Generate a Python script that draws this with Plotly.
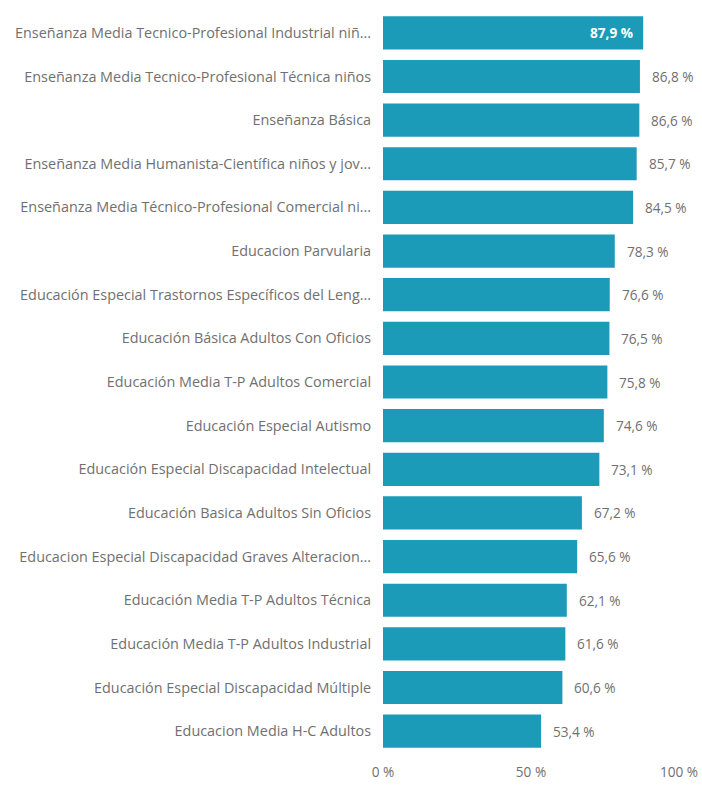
import plotly.graph_objects as go

# Tipos de enseñanza y porcentaje de cada uno
categorias = [
    "Enseñanza Media Tecnico-Profesional Industrial niñ...",
    "Enseñanza Media Tecnico-Profesional Técnica niños",
    "Enseñanza Básica",
    "Enseñanza Media Humanista-Científica niños y jov...",
    "Enseñanza Media Técnico-Profesional Comercial ni...",
    "Educacion Parvularia",
    "Educación Especial Trastornos Específicos del Leng...",
    "Educación Básica Adultos Con Oficios",
    "Educación Media T-P Adultos Comercial",
    "Educación Especial Autismo",
    "Educación Especial Discapacidad Intelectual",
    "Educación Basica Adultos Sin Oficios",
    "Educacion Especial Discapacidad Graves Alteracion...",
    "Educación Media T-P Adultos Técnica",
    "Educación Media T-P Adultos Industrial",
    "Educación Especial Discapacidad Múltiple",
    "Educacion Media H-C Adultos",
]
valores = [87.9, 86.8, 86.6, 85.7, 84.5, 78.3, 76.6, 76.5, 75.8, 74.6,
           73.1, 67.2, 65.6, 62.1, 61.6, 60.6, 53.4]
ticks_x = [0, 50, 100]
ticks_x_texto = ["0 %", "50 %", "100 %"]

color_barra = "#1b9bb7"
gris = "#707070"
fuente = "Open Sans"
tam = 14.4

fig = go.Figure(
    go.Bar(
        x=valores,
        y=categorias,
        orientation="h",
        marker=dict(color=color_barra, line=dict(width=0)),
        hoverinfo="skip",
    )
)

# Etiquetas de valor: la barra más larga la lleva dentro, el resto fuera
for i, (cat, v) in enumerate(zip(categorias, valores)):
    texto = f"{v:.1f} %".replace(".", ",")
    dentro = i == 0
    fig.add_annotation(
        x=v,
        y=cat,
        xref="x",
        yref="y",
        text=f"<b>{texto}</b>" if dentro else texto,
        showarrow=False,
        xanchor="right" if dentro else "left",
        xshift=-8 if dentro else 10,
        font=dict(family=fuente, size=tam - 0.8, color="white" if dentro else gris),
    )

fig.update_layout(
    width=702,
    height=788,
    margin=dict(l=383, r=23, t=11, b=35, autoexpand=False),
    paper_bgcolor="white",
    plot_bgcolor="white",
    bargap=0.24,
    showlegend=False,
    font=dict(family=fuente, size=tam, color=gris),
)
fig.update_xaxes(
    range=[0, 100],
    tickvals=ticks_x,
    ticktext=ticks_x_texto,
    showgrid=False,
    zeroline=False,
    showline=False,
    automargin=False,
    ticks="outside",
    ticklen=7,
    tickcolor="rgba(0,0,0,0)",
    tickfont=dict(family=fuente, size=tam - 0.8, color=gris),
)
fig.update_yaxes(
    autorange="reversed",
    showgrid=False,
    showline=False,
    automargin=False,
    ticks="outside",
    ticklen=8,
    tickcolor="rgba(0,0,0,0)",
    tickfont=dict(family=fuente, size=tam, color=gris),
)

fig.write_html("out.html")
